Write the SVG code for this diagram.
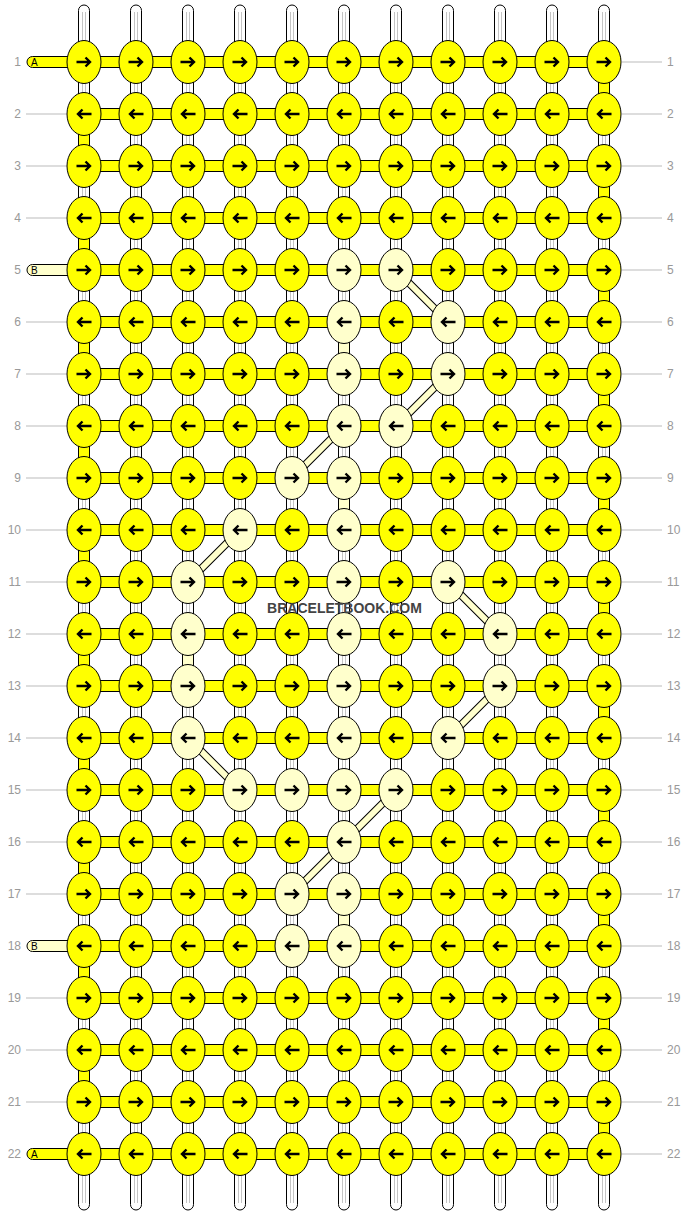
<svg xmlns="http://www.w3.org/2000/svg" xmlns:xlink="http://www.w3.org/1999/xlink" width="688" height="1216" viewBox="0 0 688 1216">
<defs>
<style>
.tb{fill:#fff;stroke:#000;stroke-width:1}
.tl{stroke:#c4c4c4;stroke-width:1;fill:none}
.hb{fill:#ff0;stroke:#000;stroke-width:1}
.pb{fill:#ffc;stroke:#000;stroke-width:1}
.dk{stroke:#000;stroke-width:8;fill:none}
.dp{stroke:#ffc;stroke-width:6;fill:none}
.ky{fill:#ff0;stroke:#000;stroke-width:1}
.kp{fill:#ffc;stroke:#000;stroke-width:1}
.ar{fill:none;stroke:#000;stroke-width:2.4}
.lb{font-family:"Liberation Sans",Arial,sans-serif;font-size:12px;fill:#999}
.ll{stroke:#bbb;stroke-width:1}
.st{font-family:"Liberation Sans",Arial,sans-serif;font-size:10px;fill:#000}
.wm{font-family:"Liberation Sans",Arial,sans-serif;font-size:14px;font-weight:bold;fill:#444}
</style>
<g id="YR"><ellipse class="ky" rx="17" ry="21.5"/><path class="ar" d="M-7.5 0H6M1.5-4.5L6 0 1.5 4.5"/></g>
<g id="YL"><ellipse class="ky" rx="17" ry="21.5"/><path class="ar" d="M7.5 0H-6M-1.5-4.5L-6 0-1.5 4.5"/></g>
<g id="PR"><ellipse class="kp" rx="17" ry="21.5"/><path class="ar" d="M-7.5 0H6M1.5-4.5L6 0 1.5 4.5"/></g>
<g id="PL"><ellipse class="kp" rx="17" ry="21.5"/><path class="ar" d="M7.5 0H-6M-1.5-4.5L-6 0-1.5 4.5"/></g>
</defs>
<rect width="688" height="1216" fill="#fff"/>
<g id="labels">
<path class="ll" d="M26 114H67M26 166H67M26 218H67M26 322H67M26 374H67M26 426H67M26 478H67M26 530H67M26 582H67M26 634H67M26 686H67M26 738H67M26 790H67M26 842H67M26 894H67M26 998H67M26 1050H67M26 1102H67"/>
<path class="ll" d="M622 62H662M622 114H662M622 166H662M622 218H662M622 270H662M622 322H662M622 374H662M622 426H662M622 478H662M622 530H662M622 582H662M622 634H662M622 686H662M622 738H662M622 790H662M622 842H662M622 894H662M622 946H662M622 998H662M622 1050H662M622 1102H662M622 1154H662"/>
<g class="lb" text-anchor="end">
<text x="21" y="66">1</text><text x="21" y="118">2</text><text x="21" y="170">3</text><text x="21" y="222">4</text><text x="21" y="274">5</text><text x="21" y="326">6</text><text x="21" y="378">7</text><text x="21" y="430">8</text><text x="21" y="482">9</text><text x="21" y="534">10</text><text x="21" y="586">11</text><text x="21" y="638">12</text><text x="21" y="690">13</text><text x="21" y="742">14</text><text x="21" y="794">15</text><text x="21" y="846">16</text><text x="21" y="898">17</text><text x="21" y="950">18</text><text x="21" y="1002">19</text><text x="21" y="1054">20</text><text x="21" y="1106">21</text><text x="21" y="1158">22</text>
</g>
<g class="lb">
<text x="667" y="66">1</text><text x="667" y="118">2</text><text x="667" y="170">3</text><text x="667" y="222">4</text><text x="667" y="274">5</text><text x="667" y="326">6</text><text x="667" y="378">7</text><text x="667" y="430">8</text><text x="667" y="482">9</text><text x="667" y="534">10</text><text x="667" y="586">11</text><text x="667" y="638">12</text><text x="667" y="690">13</text><text x="667" y="742">14</text><text x="667" y="794">15</text><text x="667" y="846">16</text><text x="667" y="898">17</text><text x="667" y="950">18</text><text x="667" y="1002">19</text><text x="667" y="1054">20</text><text x="667" y="1106">21</text><text x="667" y="1158">22</text>
</g>
</g>
<g id="connectors">
<g id="warps">
<rect class="tb" x="78.5" y="5" width="11" height="1205" rx="5.5"/>
<rect class="tb" x="130.5" y="5" width="11" height="1205" rx="5.5"/>
<rect class="tb" x="182.5" y="5" width="11" height="1205" rx="5.5"/>
<rect class="tb" x="234.5" y="5" width="11" height="1205" rx="5.5"/>
<rect class="tb" x="286.5" y="5" width="11" height="1205" rx="5.5"/>
<rect class="tb" x="338.5" y="5" width="11" height="1205" rx="5.5"/>
<rect class="tb" x="390.5" y="5" width="11" height="1205" rx="5.5"/>
<rect class="tb" x="442.5" y="5" width="11" height="1205" rx="5.5"/>
<rect class="tb" x="494.5" y="5" width="11" height="1205" rx="5.5"/>
<rect class="tb" x="546.5" y="5" width="11" height="1205" rx="5.5"/>
<rect class="tb" x="598.5" y="5" width="11" height="1205" rx="5.5"/>
<path class="tl" d="M82.5 12V1203M85.5 12V1203M134.5 12V1203M137.5 12V1203M186.5 12V1203M189.5 12V1203M238.5 12V1203M241.5 12V1203M290.5 12V1203M293.5 12V1203M342.5 12V1203M345.5 12V1203M394.5 12V1203M397.5 12V1203M446.5 12V1203M449.5 12V1203M498.5 12V1203M501.5 12V1203M550.5 12V1203M553.5 12V1203M602.5 12V1203M605.5 12V1203"/>
</g>
<g id="stubs">
<rect class="hb" x="27" y="56.5" width="62" height="11" rx="5.5"/>
<rect class="pb" x="27" y="264.5" width="62" height="11" rx="5.5"/>
<rect class="pb" x="27" y="940.5" width="62" height="11" rx="5.5"/>
<rect class="hb" x="27" y="1148.5" width="62" height="11" rx="5.5"/>
<text class="st" x="31" y="66">A</text>
<text class="st" x="31" y="274">B</text>
<text class="st" x="31" y="950">B</text>
<text class="st" x="31" y="1158">A</text>
</g>
<g id="wefts">
<rect class="hb" x="84" y="56.5" width="520" height="11"/>
<rect class="hb" x="84" y="108.5" width="520" height="11"/>
<rect class="hb" x="84" y="160.5" width="520" height="11"/>
<rect class="hb" x="84" y="212.5" width="520" height="11"/>
<rect class="hb" x="84" y="264.5" width="520" height="11"/>
<rect class="hb" x="84" y="316.5" width="520" height="11"/>
<rect class="hb" x="84" y="368.5" width="520" height="11"/>
<rect class="hb" x="84" y="420.5" width="520" height="11"/>
<rect class="hb" x="84" y="472.5" width="520" height="11"/>
<rect class="hb" x="84" y="524.5" width="520" height="11"/>
<rect class="hb" x="84" y="576.5" width="520" height="11"/>
<rect class="hb" x="84" y="628.5" width="520" height="11"/>
<rect class="hb" x="84" y="680.5" width="520" height="11"/>
<rect class="hb" x="84" y="732.5" width="520" height="11"/>
<rect class="hb" x="84" y="784.5" width="520" height="11"/>
<rect class="hb" x="84" y="836.5" width="520" height="11"/>
<rect class="hb" x="84" y="888.5" width="520" height="11"/>
<rect class="hb" x="84" y="940.5" width="520" height="11"/>
<rect class="hb" x="84" y="992.5" width="520" height="11"/>
<rect class="hb" x="84" y="1044.5" width="520" height="11"/>
<rect class="hb" x="84" y="1096.5" width="520" height="11"/>
<rect class="hb" x="84" y="1148.5" width="520" height="11"/>
</g>
<g id="turns">
<rect class="hb" x="598.5" y="62" width="11" height="52"/>
<rect class="hb" x="598.5" y="166" width="11" height="52"/>
<rect class="hb" x="598.5" y="270" width="11" height="52"/>
<rect class="hb" x="598.5" y="374" width="11" height="52"/>
<rect class="hb" x="598.5" y="478" width="11" height="52"/>
<rect class="hb" x="598.5" y="582" width="11" height="52"/>
<rect class="hb" x="598.5" y="686" width="11" height="52"/>
<rect class="hb" x="598.5" y="790" width="11" height="52"/>
<rect class="hb" x="598.5" y="894" width="11" height="52"/>
<rect class="hb" x="598.5" y="998" width="11" height="52"/>
<rect class="hb" x="598.5" y="1102" width="11" height="52"/>
<rect class="hb" x="78.5" y="114" width="11" height="52"/>
<rect class="hb" x="78.5" y="218" width="11" height="52"/>
<rect class="hb" x="78.5" y="322" width="11" height="52"/>
<rect class="hb" x="78.5" y="426" width="11" height="52"/>
<rect class="hb" x="78.5" y="530" width="11" height="52"/>
<rect class="hb" x="78.5" y="634" width="11" height="52"/>
<rect class="hb" x="78.5" y="738" width="11" height="52"/>
<rect class="hb" x="78.5" y="842" width="11" height="52"/>
<rect class="hb" x="78.5" y="946" width="11" height="52"/>
<rect class="hb" x="78.5" y="1050" width="11" height="52"/>
<rect class="pb" x="338.5" y="322" width="11" height="52"/>
<rect class="pb" x="338.5" y="478" width="11" height="52"/>
<rect class="pb" x="338.5" y="894" width="11" height="52"/>
<rect class="pb" x="182.5" y="634" width="11" height="52"/>
</g>
<g id="diagonals">
<path class="dk" d="M396 270L448 322M448 374L396 426M344 426L292 478M240 530L188 582M448 582L500 634M500 686L448 738M188 738L240 790M396 790L344 842M344 842L292 894"/>
<path class="dp" d="M396 270L448 322M448 374L396 426M344 426L292 478M240 530L188 582M448 582L500 634M500 686L448 738M188 738L240 790M396 790L344 842M344 842L292 894"/>
</g>
</g>
<g id="knots">
<g id="row1">
<g id="k1-1"><use href="#YR" x="84" y="62"/></g><g id="k1-2"><use href="#YR" x="136" y="62"/></g><g id="k1-3"><use href="#YR" x="188" y="62"/></g><g id="k1-4"><use href="#YR" x="240" y="62"/></g><g id="k1-5"><use href="#YR" x="292" y="62"/></g><g id="k1-6"><use href="#YR" x="344" y="62"/></g><g id="k1-7"><use href="#YR" x="396" y="62"/></g><g id="k1-8"><use href="#YR" x="448" y="62"/></g><g id="k1-9"><use href="#YR" x="500" y="62"/></g><g id="k1-10"><use href="#YR" x="552" y="62"/></g><g id="k1-11"><use href="#YR" x="604" y="62"/></g>
</g>
<g id="row2">
<g id="k2-1"><use href="#YL" x="84" y="114"/></g><g id="k2-2"><use href="#YL" x="136" y="114"/></g><g id="k2-3"><use href="#YL" x="188" y="114"/></g><g id="k2-4"><use href="#YL" x="240" y="114"/></g><g id="k2-5"><use href="#YL" x="292" y="114"/></g><g id="k2-6"><use href="#YL" x="344" y="114"/></g><g id="k2-7"><use href="#YL" x="396" y="114"/></g><g id="k2-8"><use href="#YL" x="448" y="114"/></g><g id="k2-9"><use href="#YL" x="500" y="114"/></g><g id="k2-10"><use href="#YL" x="552" y="114"/></g><g id="k2-11"><use href="#YL" x="604" y="114"/></g>
</g>
<g id="row3">
<g id="k3-1"><use href="#YR" x="84" y="166"/></g><g id="k3-2"><use href="#YR" x="136" y="166"/></g><g id="k3-3"><use href="#YR" x="188" y="166"/></g><g id="k3-4"><use href="#YR" x="240" y="166"/></g><g id="k3-5"><use href="#YR" x="292" y="166"/></g><g id="k3-6"><use href="#YR" x="344" y="166"/></g><g id="k3-7"><use href="#YR" x="396" y="166"/></g><g id="k3-8"><use href="#YR" x="448" y="166"/></g><g id="k3-9"><use href="#YR" x="500" y="166"/></g><g id="k3-10"><use href="#YR" x="552" y="166"/></g><g id="k3-11"><use href="#YR" x="604" y="166"/></g>
</g>
<g id="row4">
<g id="k4-1"><use href="#YL" x="84" y="218"/></g><g id="k4-2"><use href="#YL" x="136" y="218"/></g><g id="k4-3"><use href="#YL" x="188" y="218"/></g><g id="k4-4"><use href="#YL" x="240" y="218"/></g><g id="k4-5"><use href="#YL" x="292" y="218"/></g><g id="k4-6"><use href="#YL" x="344" y="218"/></g><g id="k4-7"><use href="#YL" x="396" y="218"/></g><g id="k4-8"><use href="#YL" x="448" y="218"/></g><g id="k4-9"><use href="#YL" x="500" y="218"/></g><g id="k4-10"><use href="#YL" x="552" y="218"/></g><g id="k4-11"><use href="#YL" x="604" y="218"/></g>
</g>
<g id="row5">
<g id="k5-1"><use href="#YR" x="84" y="270"/></g><g id="k5-2"><use href="#YR" x="136" y="270"/></g><g id="k5-3"><use href="#YR" x="188" y="270"/></g><g id="k5-4"><use href="#YR" x="240" y="270"/></g><g id="k5-5"><use href="#YR" x="292" y="270"/></g><g id="k5-6"><use href="#PR" x="344" y="270"/></g><g id="k5-7"><use href="#PR" x="396" y="270"/></g><g id="k5-8"><use href="#YR" x="448" y="270"/></g><g id="k5-9"><use href="#YR" x="500" y="270"/></g><g id="k5-10"><use href="#YR" x="552" y="270"/></g><g id="k5-11"><use href="#YR" x="604" y="270"/></g>
</g>
<g id="row6">
<g id="k6-1"><use href="#YL" x="84" y="322"/></g><g id="k6-2"><use href="#YL" x="136" y="322"/></g><g id="k6-3"><use href="#YL" x="188" y="322"/></g><g id="k6-4"><use href="#YL" x="240" y="322"/></g><g id="k6-5"><use href="#YL" x="292" y="322"/></g><g id="k6-6"><use href="#PL" x="344" y="322"/></g><g id="k6-7"><use href="#YL" x="396" y="322"/></g><g id="k6-8"><use href="#PL" x="448" y="322"/></g><g id="k6-9"><use href="#YL" x="500" y="322"/></g><g id="k6-10"><use href="#YL" x="552" y="322"/></g><g id="k6-11"><use href="#YL" x="604" y="322"/></g>
</g>
<g id="row7">
<g id="k7-1"><use href="#YR" x="84" y="374"/></g><g id="k7-2"><use href="#YR" x="136" y="374"/></g><g id="k7-3"><use href="#YR" x="188" y="374"/></g><g id="k7-4"><use href="#YR" x="240" y="374"/></g><g id="k7-5"><use href="#YR" x="292" y="374"/></g><g id="k7-6"><use href="#PR" x="344" y="374"/></g><g id="k7-7"><use href="#YR" x="396" y="374"/></g><g id="k7-8"><use href="#PR" x="448" y="374"/></g><g id="k7-9"><use href="#YR" x="500" y="374"/></g><g id="k7-10"><use href="#YR" x="552" y="374"/></g><g id="k7-11"><use href="#YR" x="604" y="374"/></g>
</g>
<g id="row8">
<g id="k8-1"><use href="#YL" x="84" y="426"/></g><g id="k8-2"><use href="#YL" x="136" y="426"/></g><g id="k8-3"><use href="#YL" x="188" y="426"/></g><g id="k8-4"><use href="#YL" x="240" y="426"/></g><g id="k8-5"><use href="#YL" x="292" y="426"/></g><g id="k8-6"><use href="#PL" x="344" y="426"/></g><g id="k8-7"><use href="#PL" x="396" y="426"/></g><g id="k8-8"><use href="#YL" x="448" y="426"/></g><g id="k8-9"><use href="#YL" x="500" y="426"/></g><g id="k8-10"><use href="#YL" x="552" y="426"/></g><g id="k8-11"><use href="#YL" x="604" y="426"/></g>
</g>
<g id="row9">
<g id="k9-1"><use href="#YR" x="84" y="478"/></g><g id="k9-2"><use href="#YR" x="136" y="478"/></g><g id="k9-3"><use href="#YR" x="188" y="478"/></g><g id="k9-4"><use href="#YR" x="240" y="478"/></g><g id="k9-5"><use href="#PR" x="292" y="478"/></g><g id="k9-6"><use href="#PR" x="344" y="478"/></g><g id="k9-7"><use href="#YR" x="396" y="478"/></g><g id="k9-8"><use href="#YR" x="448" y="478"/></g><g id="k9-9"><use href="#YR" x="500" y="478"/></g><g id="k9-10"><use href="#YR" x="552" y="478"/></g><g id="k9-11"><use href="#YR" x="604" y="478"/></g>
</g>
<g id="row10">
<g id="k10-1"><use href="#YL" x="84" y="530"/></g><g id="k10-2"><use href="#YL" x="136" y="530"/></g><g id="k10-3"><use href="#YL" x="188" y="530"/></g><g id="k10-4"><use href="#PL" x="240" y="530"/></g><g id="k10-5"><use href="#YL" x="292" y="530"/></g><g id="k10-6"><use href="#PL" x="344" y="530"/></g><g id="k10-7"><use href="#YL" x="396" y="530"/></g><g id="k10-8"><use href="#YL" x="448" y="530"/></g><g id="k10-9"><use href="#YL" x="500" y="530"/></g><g id="k10-10"><use href="#YL" x="552" y="530"/></g><g id="k10-11"><use href="#YL" x="604" y="530"/></g>
</g>
<g id="row11">
<g id="k11-1"><use href="#YR" x="84" y="582"/></g><g id="k11-2"><use href="#YR" x="136" y="582"/></g><g id="k11-3"><use href="#PR" x="188" y="582"/></g><g id="k11-4"><use href="#YR" x="240" y="582"/></g><g id="k11-5"><use href="#YR" x="292" y="582"/></g><g id="k11-6"><use href="#PR" x="344" y="582"/></g><g id="k11-7"><use href="#YR" x="396" y="582"/></g><g id="k11-8"><use href="#PR" x="448" y="582"/></g><g id="k11-9"><use href="#YR" x="500" y="582"/></g><g id="k11-10"><use href="#YR" x="552" y="582"/></g><g id="k11-11"><use href="#YR" x="604" y="582"/></g>
</g>
<g id="row12">
<g id="k12-1"><use href="#YL" x="84" y="634"/></g><g id="k12-2"><use href="#YL" x="136" y="634"/></g><g id="k12-3"><use href="#PL" x="188" y="634"/></g><g id="k12-4"><use href="#YL" x="240" y="634"/></g><g id="k12-5"><use href="#YL" x="292" y="634"/></g><g id="k12-6"><use href="#PL" x="344" y="634"/></g><g id="k12-7"><use href="#YL" x="396" y="634"/></g><g id="k12-8"><use href="#YL" x="448" y="634"/></g><g id="k12-9"><use href="#PL" x="500" y="634"/></g><g id="k12-10"><use href="#YL" x="552" y="634"/></g><g id="k12-11"><use href="#YL" x="604" y="634"/></g>
</g>
<g id="row13">
<g id="k13-1"><use href="#YR" x="84" y="686"/></g><g id="k13-2"><use href="#YR" x="136" y="686"/></g><g id="k13-3"><use href="#PR" x="188" y="686"/></g><g id="k13-4"><use href="#YR" x="240" y="686"/></g><g id="k13-5"><use href="#YR" x="292" y="686"/></g><g id="k13-6"><use href="#PR" x="344" y="686"/></g><g id="k13-7"><use href="#YR" x="396" y="686"/></g><g id="k13-8"><use href="#YR" x="448" y="686"/></g><g id="k13-9"><use href="#PR" x="500" y="686"/></g><g id="k13-10"><use href="#YR" x="552" y="686"/></g><g id="k13-11"><use href="#YR" x="604" y="686"/></g>
</g>
<g id="row14">
<g id="k14-1"><use href="#YL" x="84" y="738"/></g><g id="k14-2"><use href="#YL" x="136" y="738"/></g><g id="k14-3"><use href="#PL" x="188" y="738"/></g><g id="k14-4"><use href="#YL" x="240" y="738"/></g><g id="k14-5"><use href="#YL" x="292" y="738"/></g><g id="k14-6"><use href="#PL" x="344" y="738"/></g><g id="k14-7"><use href="#YL" x="396" y="738"/></g><g id="k14-8"><use href="#PL" x="448" y="738"/></g><g id="k14-9"><use href="#YL" x="500" y="738"/></g><g id="k14-10"><use href="#YL" x="552" y="738"/></g><g id="k14-11"><use href="#YL" x="604" y="738"/></g>
</g>
<g id="row15">
<g id="k15-1"><use href="#YR" x="84" y="790"/></g><g id="k15-2"><use href="#YR" x="136" y="790"/></g><g id="k15-3"><use href="#YR" x="188" y="790"/></g><g id="k15-4"><use href="#PR" x="240" y="790"/></g><g id="k15-5"><use href="#PR" x="292" y="790"/></g><g id="k15-6"><use href="#PR" x="344" y="790"/></g><g id="k15-7"><use href="#PR" x="396" y="790"/></g><g id="k15-8"><use href="#YR" x="448" y="790"/></g><g id="k15-9"><use href="#YR" x="500" y="790"/></g><g id="k15-10"><use href="#YR" x="552" y="790"/></g><g id="k15-11"><use href="#YR" x="604" y="790"/></g>
</g>
<g id="row16">
<g id="k16-1"><use href="#YL" x="84" y="842"/></g><g id="k16-2"><use href="#YL" x="136" y="842"/></g><g id="k16-3"><use href="#YL" x="188" y="842"/></g><g id="k16-4"><use href="#YL" x="240" y="842"/></g><g id="k16-5"><use href="#YL" x="292" y="842"/></g><g id="k16-6"><use href="#PL" x="344" y="842"/></g><g id="k16-7"><use href="#YL" x="396" y="842"/></g><g id="k16-8"><use href="#YL" x="448" y="842"/></g><g id="k16-9"><use href="#YL" x="500" y="842"/></g><g id="k16-10"><use href="#YL" x="552" y="842"/></g><g id="k16-11"><use href="#YL" x="604" y="842"/></g>
</g>
<g id="row17">
<g id="k17-1"><use href="#YR" x="84" y="894"/></g><g id="k17-2"><use href="#YR" x="136" y="894"/></g><g id="k17-3"><use href="#YR" x="188" y="894"/></g><g id="k17-4"><use href="#YR" x="240" y="894"/></g><g id="k17-5"><use href="#PR" x="292" y="894"/></g><g id="k17-6"><use href="#PR" x="344" y="894"/></g><g id="k17-7"><use href="#YR" x="396" y="894"/></g><g id="k17-8"><use href="#YR" x="448" y="894"/></g><g id="k17-9"><use href="#YR" x="500" y="894"/></g><g id="k17-10"><use href="#YR" x="552" y="894"/></g><g id="k17-11"><use href="#YR" x="604" y="894"/></g>
</g>
<g id="row18">
<g id="k18-1"><use href="#YL" x="84" y="946"/></g><g id="k18-2"><use href="#YL" x="136" y="946"/></g><g id="k18-3"><use href="#YL" x="188" y="946"/></g><g id="k18-4"><use href="#YL" x="240" y="946"/></g><g id="k18-5"><use href="#PL" x="292" y="946"/></g><g id="k18-6"><use href="#PL" x="344" y="946"/></g><g id="k18-7"><use href="#YL" x="396" y="946"/></g><g id="k18-8"><use href="#YL" x="448" y="946"/></g><g id="k18-9"><use href="#YL" x="500" y="946"/></g><g id="k18-10"><use href="#YL" x="552" y="946"/></g><g id="k18-11"><use href="#YL" x="604" y="946"/></g>
</g>
<g id="row19">
<g id="k19-1"><use href="#YR" x="84" y="998"/></g><g id="k19-2"><use href="#YR" x="136" y="998"/></g><g id="k19-3"><use href="#YR" x="188" y="998"/></g><g id="k19-4"><use href="#YR" x="240" y="998"/></g><g id="k19-5"><use href="#YR" x="292" y="998"/></g><g id="k19-6"><use href="#YR" x="344" y="998"/></g><g id="k19-7"><use href="#YR" x="396" y="998"/></g><g id="k19-8"><use href="#YR" x="448" y="998"/></g><g id="k19-9"><use href="#YR" x="500" y="998"/></g><g id="k19-10"><use href="#YR" x="552" y="998"/></g><g id="k19-11"><use href="#YR" x="604" y="998"/></g>
</g>
<g id="row20">
<g id="k20-1"><use href="#YL" x="84" y="1050"/></g><g id="k20-2"><use href="#YL" x="136" y="1050"/></g><g id="k20-3"><use href="#YL" x="188" y="1050"/></g><g id="k20-4"><use href="#YL" x="240" y="1050"/></g><g id="k20-5"><use href="#YL" x="292" y="1050"/></g><g id="k20-6"><use href="#YL" x="344" y="1050"/></g><g id="k20-7"><use href="#YL" x="396" y="1050"/></g><g id="k20-8"><use href="#YL" x="448" y="1050"/></g><g id="k20-9"><use href="#YL" x="500" y="1050"/></g><g id="k20-10"><use href="#YL" x="552" y="1050"/></g><g id="k20-11"><use href="#YL" x="604" y="1050"/></g>
</g>
<g id="row21">
<g id="k21-1"><use href="#YR" x="84" y="1102"/></g><g id="k21-2"><use href="#YR" x="136" y="1102"/></g><g id="k21-3"><use href="#YR" x="188" y="1102"/></g><g id="k21-4"><use href="#YR" x="240" y="1102"/></g><g id="k21-5"><use href="#YR" x="292" y="1102"/></g><g id="k21-6"><use href="#YR" x="344" y="1102"/></g><g id="k21-7"><use href="#YR" x="396" y="1102"/></g><g id="k21-8"><use href="#YR" x="448" y="1102"/></g><g id="k21-9"><use href="#YR" x="500" y="1102"/></g><g id="k21-10"><use href="#YR" x="552" y="1102"/></g><g id="k21-11"><use href="#YR" x="604" y="1102"/></g>
</g>
<g id="row22">
<g id="k22-1"><use href="#YL" x="84" y="1154"/></g><g id="k22-2"><use href="#YL" x="136" y="1154"/></g><g id="k22-3"><use href="#YL" x="188" y="1154"/></g><g id="k22-4"><use href="#YL" x="240" y="1154"/></g><g id="k22-5"><use href="#YL" x="292" y="1154"/></g><g id="k22-6"><use href="#YL" x="344" y="1154"/></g><g id="k22-7"><use href="#YL" x="396" y="1154"/></g><g id="k22-8"><use href="#YL" x="448" y="1154"/></g><g id="k22-9"><use href="#YL" x="500" y="1154"/></g><g id="k22-10"><use href="#YL" x="552" y="1154"/></g><g id="k22-11"><use href="#YL" x="604" y="1154"/></g>
</g>
</g>
<text class="wm" x="344.5" y="613" text-anchor="middle">BRACELETBOOK.COM</text>
</svg>
